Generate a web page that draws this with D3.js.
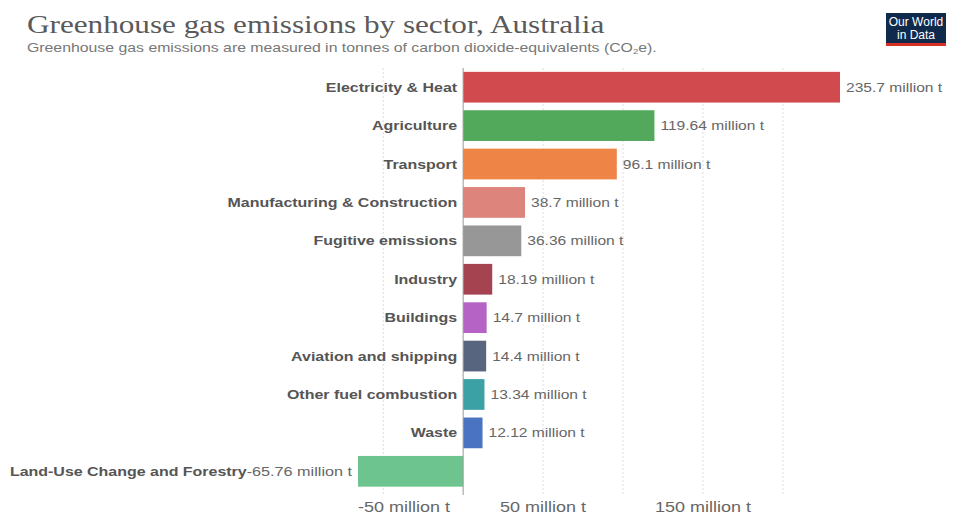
<!DOCTYPE html>
<html>
<head>
<meta charset="utf-8">
<script src="https://cdn.jsdelivr.net/npm/d3@7"></script>
<style>
  html, body { margin: 0; padding: 0; background: #fff; }
  svg { display: block; }
</style>
</head>
<body>
<svg id="chart" width="953" height="516"></svg>
<script>
// Sector emissions, million tonnes CO2e
const sectors = [
  "Electricity & Heat", "Agriculture", "Transport", "Manufacturing & Construction",
  "Fugitive emissions", "Industry", "Buildings", "Aviation and shipping",
  "Other fuel combustion", "Waste", "Land-Use Change and Forestry"
];
const emissions = [235.7, 119.64, 96.1, 38.7, 36.36, 18.19, 14.7, 14.4, 13.34, 12.12, -65.76];
const sectorColors = [
  "#d14b4e", "#52a85b", "#ef8447", "#dd857d", "#979797", "#a54450",
  "#b564c6", "#58657e", "#3ba1a5", "#4a74c1", "#6ec48e"
];
const gridTicks = [-50, 0, 50, 100, 150, 200];
const labelTicks = [-50, 50, 150];

const svg = d3.select("#chart");
const SX = 1.2; // horizontal text stretch

function stretchedText(g, x, y, str, opts) {
  const t = g.append("text")
    .attr("transform", `translate(${x},${y}) scale(${SX},1)`)
    .attr("font-family", opts.family || "'Liberation Sans', Arial, sans-serif")
    .attr("font-size", opts.size)
    .attr("font-weight", opts.weight || "normal")
    .attr("fill", opts.fill)
    .attr("text-anchor", opts.anchor || "start")
    .attr("dominant-baseline", opts.baseline || "auto")
    .text(str);
  return t;
}

const data = sectors.map((s, i) => ({ sector: s, value: emissions[i], color: sectorColors[i] }));

const x = d3.scaleLinear()
  .domain([d3.min(emissions), d3.max(emissions)])
  .range([358, 840]);

const y = d3.scaleBand()
  .domain(sectors)
  .range([68, 490.5])
  .paddingInner(0.2)
  .paddingOuter(0.1);

// Header
const header = svg.append("g");
stretchedText(header, 27, 33, "Greenhouse gas emissions by sector, Australia",
  { family: "'Liberation Serif', 'Times New Roman', serif", size: 26, fill: "#5a5a5a" });
const sub = stretchedText(header, 27, 52, "", { size: 13.2, fill: "#777" });
sub.append("tspan").text("Greenhouse gas emissions are measured in tonnes of carbon dioxide-equivalents (CO");
sub.append("tspan").attr("font-size", 8).attr("dy", 2).text("2");
sub.append("tspan").attr("dy", -2).text("e).");

// Logo
const logo = svg.append("g");
logo.append("rect").attr("x", 886).attr("y", 13).attr("width", 60).attr("height", 30).attr("fill", "#0f2a4d");
logo.append("rect").attr("x", 886).attr("y", 43).attr("width", 60).attr("height", 3).attr("fill", "#d73126");
logo.append("text").attr("x", 916).attr("y", 26).attr("text-anchor", "middle")
  .attr("font-family", "'Liberation Sans', Arial, sans-serif").attr("font-size", 12).attr("fill", "#fff").text("Our World");
logo.append("text").attr("x", 916).attr("y", 39).attr("text-anchor", "middle")
  .attr("font-family", "'Liberation Sans', Arial, sans-serif").attr("font-size", 12).attr("fill", "#fff").text("in Data");

// Gridlines
const grid = svg.append("g");
grid.selectAll("line.grid")
  .data(gridTicks.filter(d => d !== 0))
  .join("line")
  .attr("x1", d => x(d)).attr("x2", d => x(d))
  .attr("y1", 68).attr("y2", 495)
  .attr("stroke", "#dddddd").attr("stroke-width", 1)
  .attr("stroke-dasharray", "2,2");

// Bars
svg.append("g").selectAll("rect")
  .data(data)
  .join("rect")
  .attr("x", d => Math.min(x(0), x(d.value)))
  .attr("y", d => y(d.sector))
  .attr("width", d => Math.abs(x(d.value) - x(0)))
  .attr("height", y.bandwidth())
  .attr("fill", d => d.color);

// Zero line
svg.append("line")
  .attr("x1", x(0)).attr("x2", x(0))
  .attr("y1", 68).attr("y2", 495)
  .attr("stroke", "#999").attr("stroke-width", 1);

// Value and category labels
const labels = svg.append("g");
const fmt = v => `${v} million t`;
data.forEach(d => {
  const cy = y(d.sector) + y.bandwidth() / 2;
  if (d.value >= 0) {
    stretchedText(labels, x(d.value) + 6, cy, fmt(d.value),
      { size: 13, fill: "#666", baseline: "central" });
    stretchedText(labels, x(0) - 6, cy, d.sector,
      { size: 13.3, weight: "bold", fill: "#555", anchor: "end", baseline: "central" });
  } else {
    const v = stretchedText(labels, x(d.value) - 6, cy, fmt(d.value),
      { size: 13.5, fill: "#666", anchor: "end", baseline: "central" });
    const w = v.node().getComputedTextLength() * SX;
    stretchedText(labels, x(d.value) - 6 - w, cy, d.sector,
      { size: 13.3, weight: "bold", fill: "#555", anchor: "end", baseline: "central" });
  }
});

// Axis tick labels, kept inside the plotted range on the left
const axis = svg.append("g");
labelTicks.forEach(t => {
  const node = stretchedText(axis, 0, 512, fmt(t), { size: 15, fill: "#666", anchor: "start" });
  const w = node.node().getComputedTextLength() * SX;
  let left = x(t) - w / 2;
  left = Math.max(left, x.range()[0]);
  node.attr("transform", `translate(${left},512) scale(${SX},1)`);
});
</script>
</body>
</html>
